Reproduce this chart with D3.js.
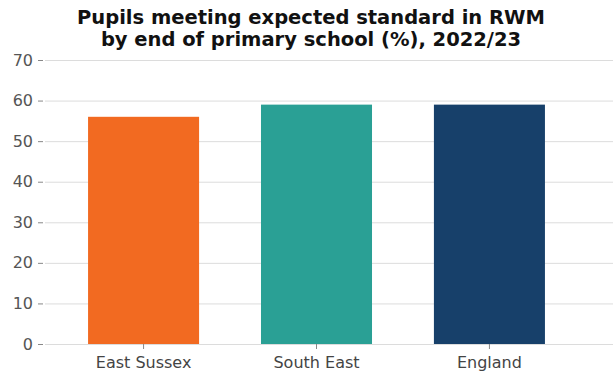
<!DOCTYPE html>
<html><head><meta charset="utf-8">
<script src="https://cdn.jsdelivr.net/npm/d3@7"></script>
<style>body{margin:0;background:#fff}svg{display:block}</style>
</head><body>
<script>
const categories = ["East Sussex", "South East", "England"];
const values = [56, 59, 59];
const colors = ["#F26A21", "#2AA095", "#17406A"];
const yTicks = [0, 10, 20, 30, 40, 50, 60, 70];
const titleLines = ["Pupils meeting expected standard in RWM", "by end of primary school (%), 2022/23"];

const W = 613, H = 374;
const svg = d3.select("body").append("svg").attr("width", W).attr("height", H);

const x = d3.scaleBand().domain(categories).range([45, 588]).paddingInner(0.358).paddingOuter(0.249);
const y = d3.scaleLinear().domain([0, 70]).range([344, 60]);

// gridlines
svg.append("g").selectAll("line").data(yTicks).join("line")
  .attr("x1", 45).attr("x2", W)
  .attr("y1", d => y(d) + 0.5).attr("y2", d => y(d) + 0.5)
  .attr("stroke", "#dcdcdc").attr("stroke-width", 1);

// y axis
const yAxis = d3.axisLeft(y).tickValues(yTicks).tickSize(5).tickPadding(5);
const gy = svg.append("g").attr("transform", "translate(43,0)").call(yAxis);
gy.select(".domain").remove();
gy.selectAll(".tick line").attr("stroke", "#888");
gy.selectAll("text").attr("fill", "#555").style("font-family", "DejaVu Sans").style("font-size", "16px");

// bars
svg.append("g").selectAll("rect").data(categories).join("rect")
  .attr("x", d => x(d)).attr("width", x.bandwidth())
  .attr("y", (d, i) => y(values[i])).attr("height", (d, i) => y(0) - y(values[i]))
  .attr("fill", (d, i) => colors[i]);

// x axis
const xAxis = d3.axisBottom(x).tickSize(5).tickPadding(8);
const gx = svg.append("g").attr("transform", "translate(0,344)").call(xAxis);
gx.select(".domain").remove();
gx.selectAll(".tick line").attr("stroke", "#888");
gx.selectAll("text").attr("fill", "#444").style("font-family", "DejaVu Sans").style("font-size", "16px");

// title
svg.append("g").selectAll("text").data(titleLines).join("text")
  .attr("x", 311).attr("y", (d, i) => 24 + i * 21.5)
  .attr("text-anchor", "middle")
  .style("font-family", "DejaVu Sans").style("font-weight", "bold").style("font-size", "19.5px")
  .attr("fill", "#111").text(d => d);
</script>
</body></html>
